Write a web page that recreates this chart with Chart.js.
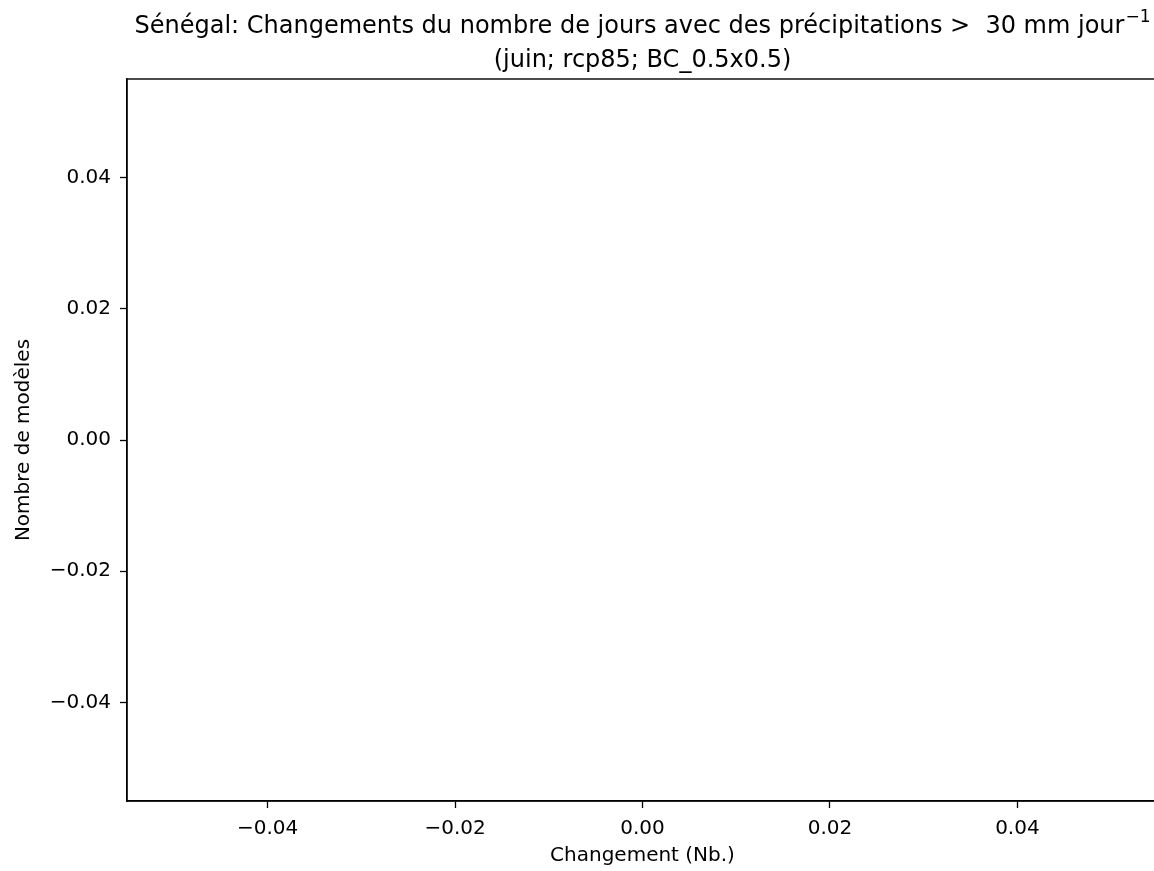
<!DOCTYPE html>
<html lang="fr">
<head>
<meta charset="utf-8">
<title>Sénégal: jours avec précipitations > 30 mm</title>
<script src="https://cdn.jsdelivr.net/npm/chart.js@4.4.0/dist/chart.umd.min.js"></script>
<style>
  html, body { margin: 0; padding: 0; background: #fff; overflow: hidden; }
  #wrap { width: 1170px; height: 871px; }
</style>
</head>
<body>
<div id="wrap"><canvas id="graphique" width="1170" height="871"></canvas></div>
<script>
// donnees (aucun modele : le graphique est vide)
const changements = [];
const nombreModeles = [];
const xTicks = [-0.04, -0.02, 0.00, 0.02, 0.04];
const yTicks = [-0.04, -0.02, 0.00, 0.02, 0.04];
const xLimites = [-0.055, 0.055];
const yLimites = [-0.055, 0.055];

const titreLigne1 = 'Sénégal: Changements du nombre de jours avec des précipitations >  30 mm jour';
const titreExposant = '\u22121';
const titreLigne2 = '(juin; rcp85; BC_0.5x0.5)';

function formatTick(v) {
    return v.toFixed(2).replace('-', '\u2212');
}

const police = 'DejaVu Sans';

// titre centre sur la zone du graphique (avec exposant) + cadre complet
const habillage = {
    id: 'habillage',
    afterDraw(chart) {
        const a = chart.chartArea;
        const ctx = chart.ctx;
        ctx.save();
        ctx.strokeStyle = '#000';
        ctx.lineWidth = 1.4;
        ctx.strokeRect(a.left, a.top, a.right - a.left, a.bottom - a.top);

        const cx = (a.left + a.right) / 2;
        ctx.fillStyle = '#000';
        ctx.textBaseline = 'alphabetic';
        ctx.textAlign = 'left';
        ctx.font = '24px "' + police + '"';
        const w1 = ctx.measureText(titreLigne1).width;
        ctx.font = '17px "' + police + '"';
        const w2 = ctx.measureText(titreExposant).width;
        const x0 = cx - (w1 + 1 + w2) / 2;
        ctx.font = '24px "' + police + '"';
        ctx.fillText(titreLigne1, x0, 33);
        ctx.font = '17px "' + police + '"';
        ctx.fillText(titreExposant, x0 + w1 + 1, 22);

        ctx.font = '24px "' + police + '"';
        ctx.textAlign = 'center';
        ctx.fillText(titreLigne2, cx, 67);
        ctx.restore();
    }
};

const points = changements.map((x, i) => ({ x: x, y: nombreModeles[i] }));

const ctx = document.getElementById('graphique').getContext('2d');
new Chart(ctx, {
    type: 'scatter',
    data: {
        datasets: [{
            label: 'modèles',
            data: points,
            backgroundColor: '#1f77b4'
        }]
    },
    options: {
        responsive: false,
        animation: false,
        devicePixelRatio: 1,
        layout: { padding: { left: 0, right: 12, top: 79, bottom: 0 } },
        plugins: {
            legend: { display: false },
            tooltip: { enabled: false },
            title: { display: false }
        },
        scales: {
            x: {
                type: 'linear',
                min: xLimites[0],
                max: xLimites[1],
                afterBuildTicks(scale) { scale.ticks = xTicks.map(v => ({ value: v })); },
                afterFit(scale) { scale.height = 70; },
                grid: { drawOnChartArea: false, drawTicks: true, tickLength: 7, tickColor: '#000', tickWidth: 1.3 },
                border: { display: true, color: '#000', width: 1.4 },
                ticks: {
                    color: '#000',
                    padding: 9,
                    maxRotation: 0,
                    font: { family: police, size: 20 },
                    callback: v => formatTick(v)
                },
                title: {
                    display: true,
                    text: 'Changement (Nb.)',
                    color: '#000',
                    font: { family: police, size: 20 },
                    padding: { top: 0, bottom: 3 }
                }
            },
            y: {
                type: 'linear',
                min: yLimites[0],
                max: yLimites[1],
                afterBuildTicks(scale) { scale.ticks = yTicks.map(v => ({ value: v })); },
                afterFit(scale) { scale.width = 127; },
                grid: { drawOnChartArea: false, drawTicks: true, tickLength: 7, tickColor: '#000', tickWidth: 1.3 },
                border: { display: true, color: '#000', width: 1.4 },
                ticks: {
                    color: '#000',
                    padding: 9,
                    font: { family: police, size: 20 },
                    callback: v => formatTick(v)
                },
                title: {
                    display: true,
                    text: 'Nombre de modèles',
                    color: '#000',
                    font: { family: police, size: 20 },
                    padding: { top: 12, bottom: 0 }
                }
            }
        }
    },
    plugins: [habillage]
});
</script>
</body>
</html>
